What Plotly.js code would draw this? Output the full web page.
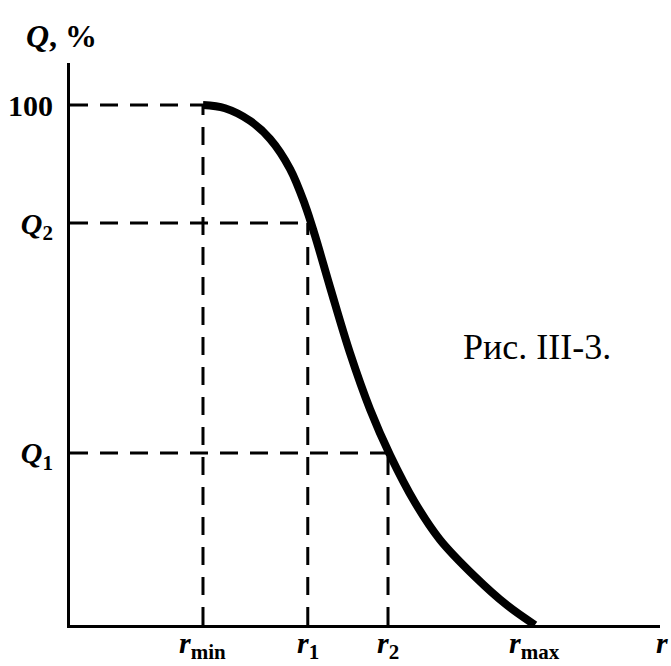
<!DOCTYPE html>
<html>
<head>
<meta charset="utf-8">
<script src="https://cdn.plot.ly/plotly-3.0.1.min.js"></script>
<style>html,body{margin:0;padding:0;background:#fff;}#chart{width:671px;height:666px;}</style>
</head>
<body>
<div id="chart"></div>
<script>
// Curve: radius r (arbitrary units) vs Q (%)
const curveR = [2.254, 2.627, 3.051, 3.390, 3.729, 3.983, 4.153, 4.407, 4.746, 5.085, 5.424, 5.847, 6.271, 6.864, 7.407, 7.881];
const curveQ = [100, 99.37, 96.96, 93.50, 87.73, 80.81, 74.85, 65.0, 52.3, 41.5, 32.7, 23.56, 16.4, 9.3, 3.8, 0];

// Marked radii and their labels
const rMarks = [2.254, 4.03, 5.39, 7.881];
const rLabels = ['<b><i>r</i></b><sub><b>min</b></sub>', '<b><i>r</i></b><sub><b>1</b></sub>', '<b><i>r</i></b><sub><b>2</b></sub>', '<b><i>r</i></b><sub><b>max</b></sub>'];
// Marked Q levels and their labels
const qMarks = [100, 77.3, 33.1];
const qLabels = ['<b>100</b>', '<b><i>Q</i></b><sub><b>2</b></sub>', '<b><i>Q</i></b><sub><b>1</b></sub>'];
// guide lines: corner points [r, Q]
const guideR = [2.254, 4.03, 5.39];
const guideQ = [100, 77.3, 33.1];

const serif = 'Liberation Serif, Times New Roman, serif';
const dashStyle = {color: '#000', width: 3, dash: '18px,12px'};

const traces = [];
guideR.forEach((r, i) => {
  traces.push({x: [0, r], y: [guideQ[i], guideQ[i]], mode: 'lines', line: dashStyle, hoverinfo: 'skip', showlegend: false});
  traces.push({x: [r, r], y: [0, guideQ[i]], mode: 'lines', line: dashStyle, hoverinfo: 'skip', showlegend: false});
});
traces.push({x: curveR, y: curveQ, mode: 'lines', line: {color: '#000', width: 8, shape: 'spline', smoothing: 1}, showlegend: false});

const annotations = rMarks.map((r, i) => ({
  xref: 'x', yref: 'y', x: r, y: 0, xanchor: 'center', yanchor: 'top', yshift: 1,
  text: rLabels[i], showarrow: false, font: {family: serif, size: 30, color: '#000'}
}));
annotations.push(
  {xref: 'paper', yref: 'paper', x: -0.078, y: 1.083, xanchor: 'left', yanchor: 'top',
   text: '<b><i>Q</i>, %</b>', showarrow: false, font: {family: serif, size: 32, color: '#000'}},
  {xref: 'paper', yref: 'paper', x: 0.99, y: 0, xanchor: 'left', yanchor: 'top', yshift: 1,
   text: '<b><i>r</i></b>', showarrow: false, font: {family: serif, size: 30, color: '#000'}},
  {xref: 'x', yref: 'y', x: 6.63, y: 53.5, xanchor: 'left', yanchor: 'middle',
   text: 'Рис. III-3.', showarrow: false, font: {family: serif, size: 36, color: '#000'}}
);

const layout = {
  width: 671, height: 666,
  margin: {l: 70, r: 11, t: 63, b: 41},
  paper_bgcolor: '#fff', plot_bgcolor: '#fff',
  showlegend: false,
  xaxis: {
    range: [0, 10], showgrid: false, zeroline: false,
    showline: true, linecolor: '#000', linewidth: 3,
    showticklabels: false, ticks: ''
  },
  yaxis: {
    range: [0, 108.08], showgrid: false, zeroline: false,
    showline: true, linecolor: '#000', linewidth: 3,
    tickvals: qMarks, ticktext: qLabels, ticks: '',
    tickfont: {family: serif, size: 30, color: '#000'},
    ticklabelstandoff: 8
  },
  annotations: annotations
};

Plotly.newPlot('chart', traces, layout, {displayModeBar: false, staticPlot: true});
</script>
</body>
</html>
